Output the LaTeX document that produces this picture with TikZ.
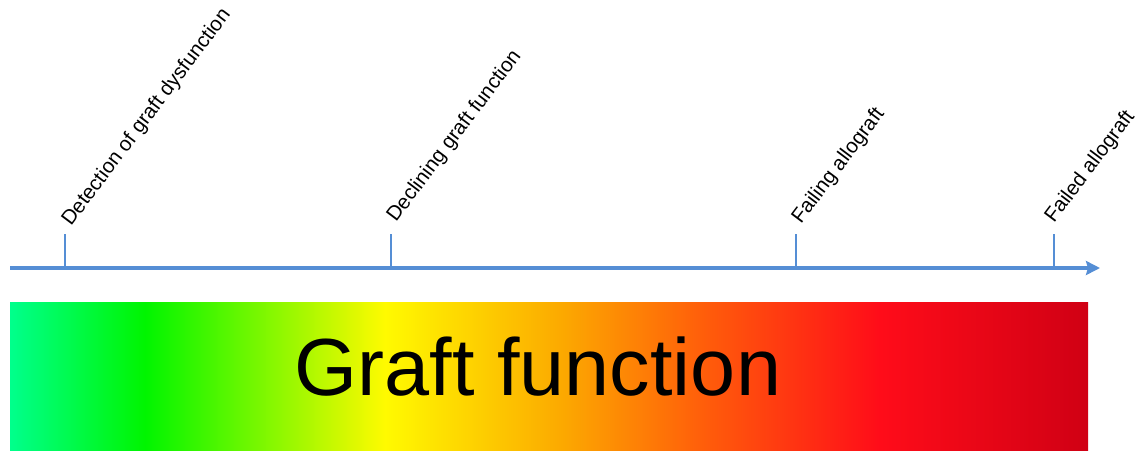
\documentclass[tikz,border=0pt]{standalone}
\usepackage{fontspec}
\setmainfont{Liberation Sans}
\usetikzlibrary{arrows.meta}
\definecolor{axisblue}{RGB}{85,142,213}
\definecolor{gA}{RGB}{0,255,140}
\definecolor{gB}{RGB}{0,245,0}
\definecolor{gC}{RGB}{255,250,0}
\definecolor{gD}{RGB}{252,170,0}
\definecolor{gE}{RGB}{255,95,10}
\definecolor{gF}{RGB}{255,12,25}
\definecolor{gG}{RGB}{208,0,20}
\pgfdeclarehorizontalshading{graftshade}{100bp}{%
 color(0bp)=(gA); color(25bp)=(gA); color(31.26bp)=(gB); color(42.4bp)=(gC);
 color(50.5bp)=(gD); color(57bp)=(gE); color(65.35bp)=(gF); color(75bp)=(gG); color(100bp)=(gG)}
\tikzset{
 axisline/.style={draw=axisblue, line width=4pt, -{Stealth[length=14pt,width=14pt,inset=2pt]}},
 tickline/.style={draw=axisblue, line width=1.8pt},
 milestone/.style={rotate=53, anchor=base west, inner sep=0pt, font=\fontsize{20.5}{25}\selectfont},
 bartext/.style={anchor=base, inner sep=0pt, font=\fontsize{81}{90}\selectfont}
}
\begin{document}
\begin{tikzpicture}[x=1pt,y=-1pt]
\useasboundingbox (0,0) rectangle (1139,451);
% gradient bar
\path[shading=graftshade] (10,302) rectangle (1088,450);
\node[bartext] (bar) at (538,395) {Graft function};
% axis
\coordinate (axstart) at (10,268);
\coordinate (axend) at (1100,268);
\draw[axisline] (axstart) -- (axend);
% ticks
\foreach \n/\x in {t1/65, t2/391, t3/796, t4/1054} {
  \coordinate (\n b) at (\x,268);
  \coordinate (\n t) at (\x,234);
  \draw[tickline] (\n b) -- (\n t);
}
\node[milestone] (l1) at (71,227) {Detection of graft dysfunction};
\node[milestone] (l2) at (396,223) {Declining graft function};
\node[milestone] (l3) at (801,225) {Failing allograft};
\node[milestone] (l4) at (1054,224) {Failed allograft};
\end{tikzpicture}
\end{document}
